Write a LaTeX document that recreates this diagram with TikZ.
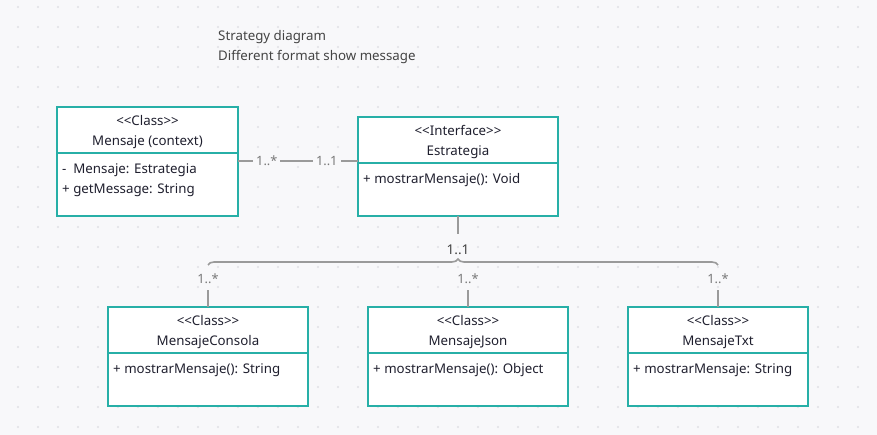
\documentclass[tikz,border=0pt]{standalone}
\usepackage{fontspec}
\setmainfont{Noto Sans}
\usetikzlibrary{positioning,decorations.pathreplacing}

\definecolor{bg}{HTML}{F8F8FA}
\definecolor{dotgray}{HTML}{E0E0E5}
\definecolor{umlteal}{HTML}{27AFA7}
\definecolor{linegray}{HTML}{9A9A9A}
\definecolor{labelgray}{HTML}{787878}
\definecolor{labeldark}{HTML}{444444}
\definecolor{ink}{HTML}{1F1F2E}

\begin{document}
\begin{tikzpicture}[x=1pt,y=-1pt,
  head/.style={draw=umlteal,line width=1.6pt,fill=white,minimum width=200pt,minimum height=46pt,
    inner sep=0pt,outer sep=0pt},
  headtext/.style={inner sep=0pt,align=center,text=ink,font=\fontsize{13.3}{20}\selectfont},
  body/.style={draw=umlteal,line width=1.6pt,fill=white,minimum width=200pt,minimum height=53pt,
    inner sep=0pt,outer sep=0pt},
  members/.style={anchor=north west,inner sep=0pt,align=left,text=ink,font=\fontsize{13.3}{20}\selectfont},
  assoc/.style={draw=linegray,line width=1.6pt},
  mult/.style={text=labelgray,font=\fontsize{12.8}{14}\selectfont,fill=bg,inner sep=3pt}]
\fill[bg] (0,0) rectangle (877,435);
\useasboundingbox (0,0) rectangle (877,435);
\foreach \x in {18,38,...,878} {\foreach \y in {7,27,...,435} {\fill[dotgray] (\x,\y) circle (1.2pt);}}

% title
\node[anchor=west,align=left,inner sep=0pt,text=labeldark,font=\fontsize{13.3}{20}\selectfont] (title) at (218,47)
  {Strategy diagram\\Different format show message};

% context and strategy
\node[head,minimum width=181pt] (mhead) at (147.5,130) {};
\node[headtext] (mname) at ([yshift=-2.5pt]mhead.center) {<{}<Class>{}>\\Mensaje (context)};
\node[body,minimum width=181pt,minimum height=63pt,below=0pt of mhead] (mbody) {};
\node[members] (mtext) at ([shift={(5,10)}]mbody.north west) {-\ \ Mensaje: Estrategia\\+ getMessage: String};

\node[head] (ehead) at (458,140) {};
\node[headtext] (ename) at ([yshift=-2.5pt]ehead.center) {<{}<Interface>{}>\\Estrategia};
\node[body,below=0pt of ehead] (ebody) {};
\node[members] (etext) at ([shift={(5,10)}]ebody.north west) {+ mostrarMensaje(): Void};

\draw[assoc] ([yshift=-8pt]mbody.north east) -- ([yshift=-8pt]mbody.north east -| ehead.west)
  node[mult,pos=0.24] {1..*} node[mult,pos=0.74] {1..1};

% concrete strategies
\node[head] (chead) at (208,330) {};
\node[headtext] (cname) at ([yshift=-2.5pt]chead.center) {<{}<Class>{}>\\MensajeConsola};
\node[body,below=0pt of chead] (cbody) {};
\node[members] (ctext) at ([shift={(5,10)}]cbody.north west) {+ mostrarMensaje(): String};

\node[head] (jhead) at (468,330) {};
\node[headtext] (jname) at ([yshift=-2.5pt]jhead.center) {<{}<Class>{}>\\MensajeJson};
\node[body,below=0pt of jhead] (jbody) {};
\node[members] (jtext) at ([shift={(5,10)}]jbody.north west) {+ mostrarMensaje(): Object};

\node[head,minimum width=180pt] (thead) at (718,330) {};
\node[headtext] (tname) at ([yshift=-2.5pt]thead.center) {<{}<Class>{}>\\MensajeTxt};
\node[body,minimum width=180pt,below=0pt of thead] (tbody) {};
\node[members] (ttext) at ([shift={(5,10)}]tbody.north west) {+ mostrarMensaje: String};

% brace
\coordinate (etip) at ([yshift=-18pt]ebody.south);
\draw[assoc] (ebody.south) -- (etip);
\node[text=labeldark,font=\fontsize{13.5}{15}\selectfont,inner sep=1pt] (one) at ([yshift=-34pt]ebody.south) {1..1};
\coordinate (bleft) at ([yshift=42pt]chead.north);
\coordinate (bright) at ([yshift=42pt]thead.north);
\draw[assoc,decorate,decoration={brace,amplitude=6pt,aspect=0.49}] (bleft) -- (bright);
\foreach \n in {chead,jhead,thead} {
  \coordinate (\n top) at ([yshift=17pt]\n.north);
  \draw[assoc] (\n.north) -- (\n top);
  \node[mult,fill=none] at ([yshift=28pt]\n.north) {1..*};
}
\end{tikzpicture}
\end{document}
